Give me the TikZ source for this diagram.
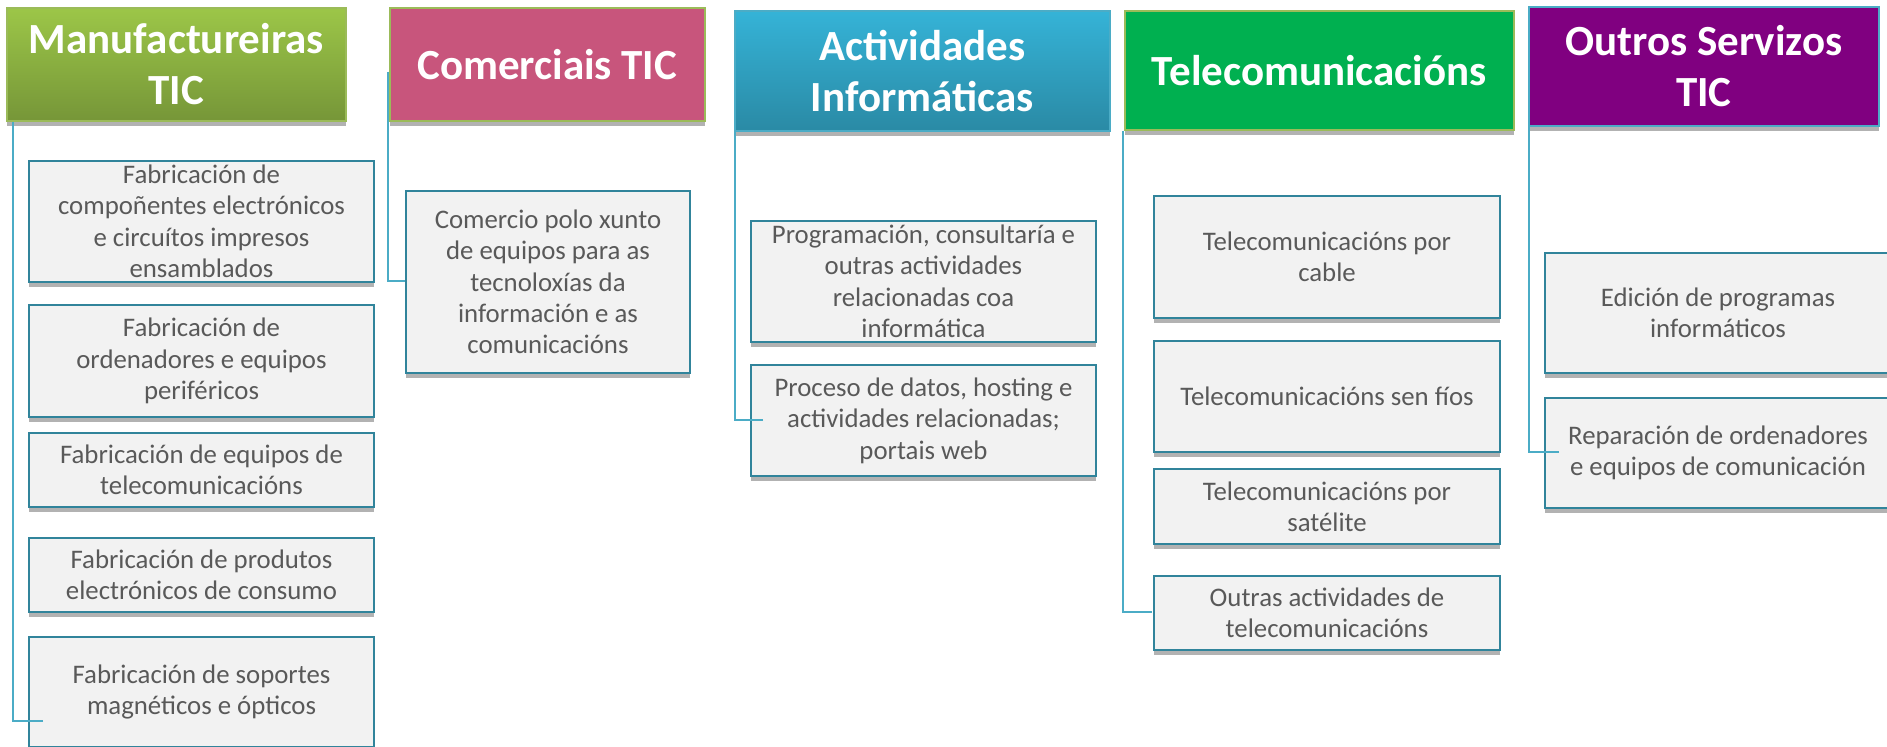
\documentclass[tikz,border=0pt]{standalone}
\usepackage{fontspec}
\setmainfont{Carlito}
\usetikzlibrary{shadows}
\definecolor{hijauatas}{RGB}{156,198,72}
\definecolor{hijaubawah}{RGB}{118,150,56}
\definecolor{hijaugaris}{RGB}{155,187,89}
\definecolor{merahmuda}{RGB}{200,85,124}
\definecolor{biruatas}{RGB}{53,179,215}
\definecolor{birubawah}{RGB}{42,138,165}
\definecolor{birugaris}{RGB}{75,172,198}
\definecolor{hijautel}{RGB}{0,176,80}
\definecolor{ungu}{RGB}{128,0,128}
\definecolor{kotakisi}{RGB}{242,242,242}
\definecolor{kotakgaris}{RGB}{49,132,155}
\definecolor{teksabu}{RGB}{89,89,89}

\tikzset{
  hdr/.style={draw, line width=0.8pt, anchor=north west, inner sep=0pt,
    align=center, text=white, font=\bfseries\fontsize{21.5}{25.5}\selectfont,
    drop shadow={shadow xshift=0pt, shadow yshift=-2.5pt, fill=gray!60, opacity=1}},
  sub/.style={draw=kotakgaris, fill=kotakisi, line width=1pt, anchor=north west,
    inner sep=0pt, align=center, text=teksabu, font=\fontsize{13.4}{15.7}\selectfont,
    drop shadow={shadow xshift=0pt, shadow yshift=-2.5pt, fill=gray!60, opacity=1}},
  link/.style={draw=birugaris, line width=1pt}
}

\begin{document}
\begin{tikzpicture}[x=0.5pt, y=-0.5pt]
  \useasboundingbox (0,0) rectangle (1887,747);

  % connector ends
  \coordinate (e1) at (43,721);
  \coordinate (e2) at (405,281);
  \coordinate (e3) at (763,420);
  \coordinate (e4) at (1152,612);
  \coordinate (e5) at (1559,452);

  % headers
  \node[hdr, draw=hijaugaris, top color=hijauatas, bottom color=hijaubawah,
        minimum width=169.5pt, minimum height=56.5pt] (h1) at (6,7) {Manufactureiras\\TIC};
  \node[hdr, draw=hijaugaris, fill=merahmuda,
        minimum width=157.5pt, minimum height=56.5pt] (h2) at (389,7) {Comerciais TIC};
  \node[hdr, draw=birugaris, top color=biruatas, bottom color=birubawah,
        minimum width=187.5pt, minimum height=60pt] (h3) at (734,10) {Actividades\\Informáticas};
  \node[hdr, draw=hijaugaris, fill=hijautel,
        minimum width=194.5pt, minimum height=59.5pt] (h4) at (1124,10) {Telecomunicacións};
  \node[hdr, draw=birugaris, fill=ungu,
        minimum width=175pt, minimum height=59.5pt] (h5) at (1528,6) {Outros Servizos\\TIC};

  % links
  \draw[link] ([xshift=3.5pt]h1.south west) |- (e1);
  \draw[link] ([xshift=-0.5pt, yshift=25pt]h2.south west) |- (e2);
  \draw[link] ([xshift=0.5pt]h3.south west) |- (e3);
  \draw[link] ([xshift=-0.5pt]h4.south west) |- (e4);
  \draw[link] ([xshift=0.5pt]h5.south west) |- (e5);

  % Manufactureiras TIC
  \node[sub, minimum width=172.5pt, minimum height=60.5pt] (c11) at (28,160)
    {Fabricación de\\compoñentes electrónicos\\e circuítos impresos\\ensamblados};
  \node[sub, minimum width=172.5pt, minimum height=56pt] (c12) at (28,304)
    {Fabricación de\\ordenadores e equipos\\periféricos};
  \node[sub, minimum width=172.5pt, minimum height=37pt] (c13) at (28,432)
    {Fabricación de equipos de\\telecomunicacións};
  \node[sub, minimum width=172.5pt, minimum height=37pt] (c14) at (28,537)
    {Fabricación de produtos\\electrónicos de consumo};
  \node[sub, minimum width=172.5pt, minimum height=55pt] (c15) at (28,636)
    {Fabricación de soportes\\magnéticos e ópticos};

  % Comerciais TIC
  \node[sub, minimum width=142pt, minimum height=91pt] (c21) at (405,190)
    {Comercio polo xunto\\de equipos para as\\tecnoloxías da\\información e as\\comunicacións};

  % Actividades Informáticas
  \node[sub, minimum width=172.5pt, minimum height=60.5pt] (c31) at (750,220)
    {Programación, consultaría e\\outras actividades\\relacionadas coa\\informática};
  \node[sub, minimum width=172.5pt, minimum height=55.5pt] (c32) at (750,364)
    {Proceso de datos, hosting e\\actividades relacionadas;\\portais web};

  % Telecomunicacions
  \node[sub, minimum width=173pt, minimum height=61pt] (c41) at (1153,195)
    {Telecomunicacións por\\cable};
  \node[sub, minimum width=173pt, minimum height=55.5pt] (c42) at (1153,340)
    {Telecomunicacións sen fíos};
  \node[sub, minimum width=173pt, minimum height=37.5pt] (c43) at (1153,468)
    {Telecomunicacións por\\satélite};
  \node[sub, minimum width=173pt, minimum height=37pt] (c44) at (1153,575)
    {Outras actividades de\\telecomunicacións};

  % Outros Servizos TIC
  \node[sub, minimum width=173pt, minimum height=60pt] (c51) at (1544,252)
    {Edición de programas\\informáticos};
  \node[sub, minimum width=173pt, minimum height=55pt] (c52) at (1544,397)
    {Reparación de ordenadores\\e equipos de comunicación};

  % link ends drawn over boxes
  \draw[link] (e1) -- ++(-15,0);
  \draw[link] (e3) -- ++(-28,0);
  \draw[link] (e5) -- ++(-30,0);
\end{tikzpicture}
\end{document}
